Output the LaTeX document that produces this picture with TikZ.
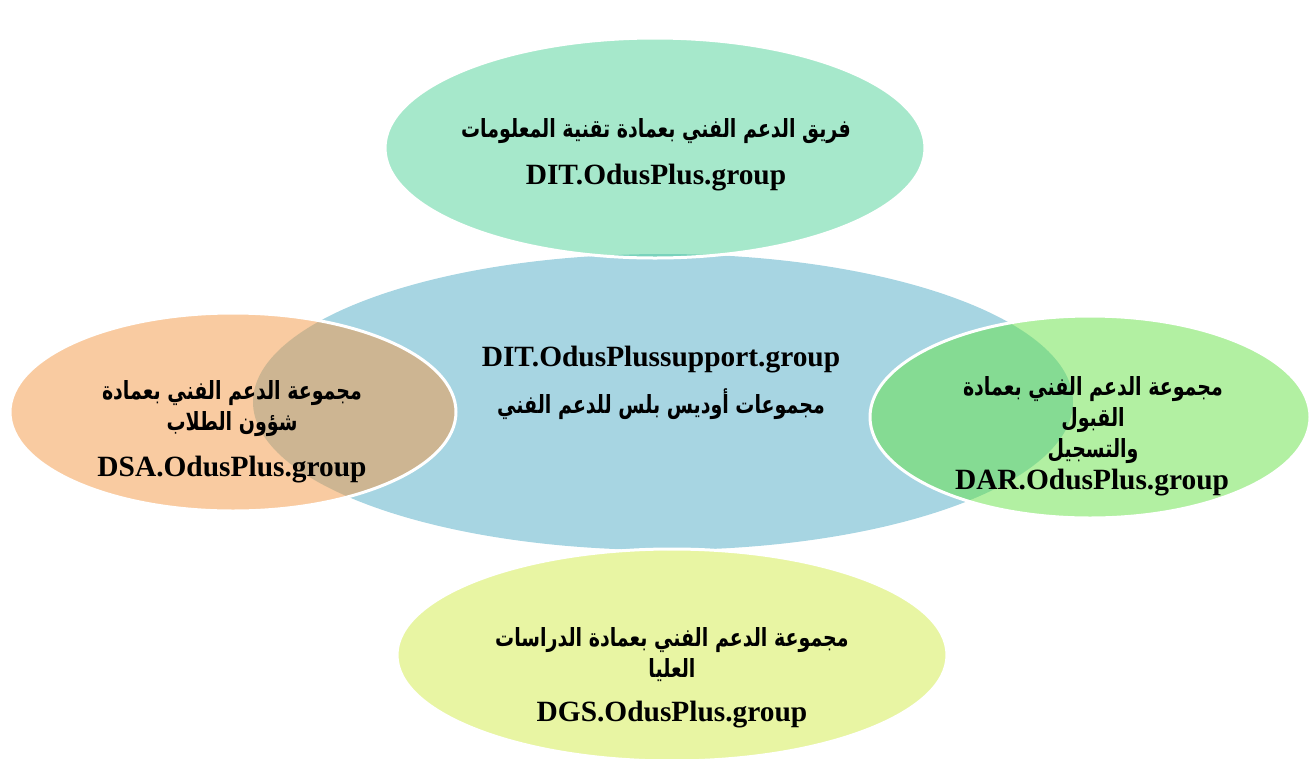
\documentclass[tikz,border=0pt]{standalone}
\usepackage{fontspec}
\setmainfont{Liberation Serif}
\newfontfamily\arabicfont[Script=Arabic,FakeStretch=0.76]{DejaVu Sans}
\TeXXeTstate=1
\usetikzlibrary{shapes.geometric}
\definecolor{cblue}{RGB}{167,213,226}
\definecolor{ctop}{RGB}{77,209,151}
\definecolor{cleft}{RGB}{243,151,67}
\definecolor{cright}{RGB}{101,225,69}
\definecolor{cbot}{RGB}{209,235,71}
\tikzset{
  blob/.style={ellipse, inner sep=0pt, draw=white, line width=3pt, fill opacity=0.5, draw opacity=1},
  lat/.style={font=\bfseries\fontsize{29.4}{34}\selectfont, inner sep=0pt},
  ar/.style={font=\arabicfont\bfseries\fontsize{25}{31}\selectfont, align=center, inner sep=0pt},
}
\begin{document}
\begin{tikzpicture}[x=1pt,y=-1pt]
\useasboundingbox (0,0) rectangle (1314,758);
\node[ellipse, fill=cblue, minimum width=820pt, minimum height=296pt, inner sep=0pt] (center) at (663,402) {};
\node[blob, fill=ctop, minimum width=540pt, minimum height=220pt] (top) at (655,148) {};
\node[blob, fill=cbot, minimum width=550pt, minimum height=212pt] (bottom) at (672,655) {};
\node[blob, fill=cleft, minimum width=446pt, minimum height=198pt] (left) at (233,412) {};
\node[blob, fill=cright, minimum width=440pt, minimum height=202pt] (right) at (1090,417) {};
% texts
\node[ar] (toptxt) at (656,131) {\beginR فريق الدعم الفني بعمادة تقنية المعلومات\endR};
\node[lat] (toplat) at (656,178) {DIT.OdusPlus.group};
\node[lat] (clat) at (661,360) {DIT.OdusPlussupport.group};
\node[ar] (ctxt) at (661,404) {\beginR مجموعات أوديس بلس للدعم الفني\endR};
\node[ar] (ltxt) at (232,409) {\beginR مجموعة الدعم الفني بعمادة\endR\\\beginR شؤون الطلاب\endR};
\node[lat] (llat) at (232,470) {DSA.OdusPlus.group};
\node[ar] (rtxt) at (1093,420) {\beginR مجموعة الدعم الفني بعمادة\endR\\\beginR القبول\endR\\\beginR والتسجيل\endR};
\node[lat] (rlat) at (1092,483) {DAR.OdusPlus.group};
\node[ar] (btxt) at (672,655) {\beginR مجموعة الدعم الفني بعمادة الدراسات\endR\\\beginR العليا\endR};
\node[lat] (blat) at (672,715) {DGS.OdusPlus.group};
\end{tikzpicture}
\end{document}
